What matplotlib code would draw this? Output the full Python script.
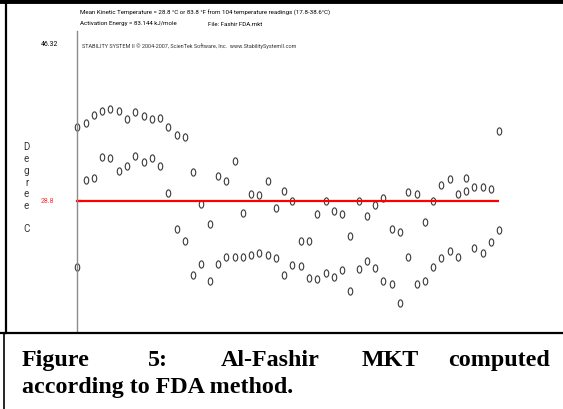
import numpy as np
import matplotlib.pyplot as plt
from matplotlib.path import Path
from matplotlib.lines import Line2D

# readings, two per sample position (upper / lower track), deg C
temp_a = [36.7, 37.1, 38.0, 38.4, 38.6, 38.4, 37.5, 38.3, 37.8, 37.5, 37.6, 36.7, 35.8,
          35.6, 31.9, 28.4, 26.3, 31.4, 30.9, 33.0, 27.5, 29.5, 29.4, 30.9, 28.0, 29.8,
          28.7, 24.5, 24.5, 27.4, 28.7, 27.7, 27.4, 25.0, 28.7, 27.1, 28.3, 29.1, 25.8,
          25.4, 29.7, 29.5, 26.5, 28.7, 30.5, 31.1, 29.5, 31.2, 30.2, 30.3, 30.0, 36.3]
temp_b = [21.7, 31.0, 31.2, 33.5, 33.4, 32.0, 32.5, 33.6, 32.9, 33.4, 32.5, 29.6, 25.8,
          24.5, 20.8, 22.0, 20.2, 22.0, 22.8, 22.8, 22.8, 23.0, 23.2, 23.0, 22.6, 20.8,
          21.9, 21.8, 20.5, 20.4, 21.0, 20.6, 21.4, 19.1, 21.5, 22.3, 21.6, 20.2, 19.9,
          17.8, 22.8, 19.9, 20.2, 21.7, 22.7, 23.4, 22.8, 29.8, 23.7, 23.2, 24.4, 25.6]
mkt = 28.8
y_top = 46.32
y_bottom = 14.73

W, H = 563, 410
fig = plt.figure(figsize=(W / 100, H / 100), dpi=100)

def fx(px):
    return px / W

def fy(py):
    return 1 - py / H

# plot area
ax = fig.add_axes([fx(77), fy(333), fx(505) - fx(77), fy(37.9) - fy(333)])
ax.set_xlim(-0.04, 51.69)
ax.set_ylim(y_bottom, y_top)
for s in ['top', 'right', 'bottom', 'left']:
    ax.spines[s].set_visible(False)
ax.set_xticks([])
ax.set_yticks([])
# axis line runs a little above the top value
fig.add_artist(Line2D([fx(77), fx(77)], [fy(32), fy(333)], color='#8c8c8c', lw=1.0,
                      transform=fig.transFigure))

# tall "0"-like marker
t = np.linspace(0, 2 * np.pi, 40)
ell = Path(np.column_stack([0.62 * np.cos(t), np.sin(t)]))
idx = np.arange(len(temp_a))
for series in (temp_a, temp_b):
    ax.plot(idx, series, ls='none', marker=ell, markersize=5.2,
            markerfacecolor='none', markeredgecolor='#3a3a3a', markeredgewidth=0.8,
            clip_on=False)

ax.hlines(mkt, 0, len(idx) - 1, color='#ff0000', lw=1.6)
ax.plot([0, 0.35], [mkt, mkt], color='#ff0000', lw=1.6, clip_on=False)

# header texts (narrow software font, sized to the measured width)
narrow = dict(family='Roboto')
renderer = fig.canvas.get_renderer()

def fit(txt, width_px):
    w = txt.get_window_extent(renderer).width
    txt.set_fontsize(txt.get_fontsize() * width_px / w)
    return txt.get_fontsize()

l1 = fig.text(fx(80), fy(13), 'Mean Kinetic Temperature = 28.8 \u00b0C or 83.8 \u00b0F from 104 temperature readings (17.8-38.6\u00b0C)',
              fontsize=6.0, va='center', ha='left', **narrow)
fs1 = fit(l1, 256)
fig.text(fx(80), fy(24), 'Activation Energy = 83.144 kJ/mole',
         fontsize=fs1, va='center', ha='left', **narrow)
fig.text(fx(208), fy(24), 'File: Fashir FDA.mkt',
         fontsize=fs1, va='center', ha='left', **narrow)
l3 = fig.text(fx(82), fy(46), 'STABILITY SYSTEM II \u00a9 2004-2007, ScienTek Software, Inc.  www.StabilitySystemII.com',
              fontsize=4.8, va='center', ha='left', color='#333333', **narrow)
fit(l3, 212)
fig.text(fx(50), fy(44), '46.32', fontsize=fs1 * 1.1, va='center', ha='center', **narrow)
fig.text(fx(47), fy(202), '28.8', fontsize=fs1 * 1.1, va='center', ha='center',
         color='#ff3030', **narrow)
for k, ch in enumerate('Degree C'):
    fig.text(fx(26.5), fy(147.5 + k * 11.7), ch, fontsize=7,
             va='center', ha='center', color='#333333', **narrow)

# frame lines
frame = dict(color='black', transform=fig.transFigure)
fig.add_artist(Line2D([0, 1], [fy(2), fy(2)], lw=3.5, **frame))
fig.add_artist(Line2D([fx(5.5), fx(5.5)], [fy(0), fy(334)], lw=1.6, **frame))
fig.add_artist(Line2D([0, 1], [fy(334), fy(334)], lw=1.6, **frame))
fig.add_artist(Line2D([fx(4), fx(4)], [fy(334), fy(410)], lw=1.2, **frame))

# caption, justified on the first line
serif = dict(family='Liberation Serif', weight='bold', fontsize=17.3, va='baseline')
words = [('Figure', 22), ('5:', 148), ('Al-Fashir', 221), ('MKT', 362)]
for w, x0 in words:
    fig.text(fx(x0), fy(366), w, ha='left', **serif)
fig.text(fx(550), fy(366), 'computed', ha='right', **serif)
fig.text(fx(22), fy(393), 'according to FDA method.', ha='left', **serif)

fig.savefig('out.png', dpi=100)
